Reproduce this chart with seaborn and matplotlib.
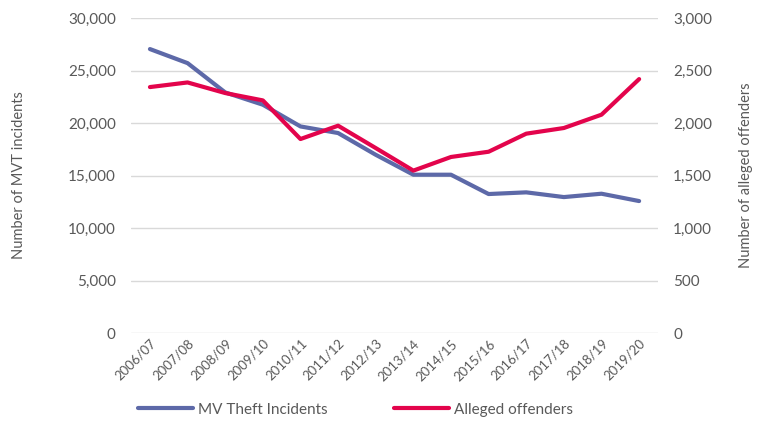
import matplotlib.pyplot as plt
import pandas as pd
import seaborn as sns
from matplotlib.ticker import FuncFormatter

years = ["2006/07", "2007/08", "2008/09", "2009/10", "2010/11", "2011/12",
         "2012/13", "2013/14", "2014/15", "2015/16", "2016/17", "2017/18",
         "2018/19", "2019/20"]
mvt_incidents = [27050, 25710, 22920, 21750, 19680, 19050, 16980, 15080,
                 15080, 13240, 13400, 12950, 13270, 12570]
alleged_offenders = [2343, 2387, 2286, 2216, 1848, 1975, 1762, 1547,
                     1677, 1727, 1899, 1953, 2080, 2419]

blue = "#5D69A8"
red = "#E3044C"
text_grey = "#595959"
grid_grey = "#D9D9D9"

df = pd.DataFrame({"year": years, "incidents": mvt_incidents,
                   "offenders": alleged_offenders})
df["pos"] = range(len(df))

sns.set_theme(style="white")
plt.rcParams["font.family"] = ["Lato", "DejaVu Sans"]

fig = plt.figure(figsize=(7.58, 4.21), dpi=100)
ax = fig.add_axes([0.173, 0.209, 0.695, 0.748])
ax2 = ax.twinx()

sns.lineplot(data=df, x="pos", y="incidents", ax=ax, color=blue,
             linewidth=3, label="MV Theft Incidents", legend=False)
sns.lineplot(data=df, x="pos", y="offenders", ax=ax2, color=red,
             linewidth=3, label="Alleged offenders", legend=False)

ax.set_xlim(-0.5, len(years) - 0.5)
ax.set_ylim(0, 30000)
ax2.set_ylim(0, 3000)
ax.set_yticks(range(0, 30001, 5000))
ax2.set_yticks(range(0, 3001, 500))
ax.yaxis.set_major_formatter(FuncFormatter(lambda v, p: f"{int(v):,}"))
ax2.yaxis.set_major_formatter(FuncFormatter(lambda v, p: f"{int(v):,}"))

ax.set_xticks(df["pos"])
ax.set_xticklabels(years, rotation=45, ha="right", rotation_mode="anchor",
                   fontsize=9.5, color=text_grey)

ax.grid(axis="y", color=grid_grey, linewidth=1)
ax.set_axisbelow(True)
for a in (ax, ax2):
    for side in a.spines:
        a.spines[side].set_visible(False)
    a.tick_params(axis="y", length=0, pad=11, labelsize=11,
                  labelcolor=text_grey)
ax.tick_params(axis="x", length=0, pad=3)

ax.set_xlabel("")
ax.set_ylabel("Number of MVT incidents", fontsize=10.5, color=text_grey,
              labelpad=30)
ax2.set_ylabel("Number of alleged offenders", fontsize=10.5, color=text_grey,
               labelpad=19)

handles = ax.get_lines()[:1] + ax2.get_lines()[:1]
fig.legend(handles, ["MV Theft Incidents", "Alleged offenders"],
           loc="center left", bbox_to_anchor=(0.164, 0.027), ncol=2,
           frameon=False, fontsize=11, labelcolor=text_grey,
           handlelength=3.6, handletextpad=0.3, columnspacing=4.4)

fig.savefig("out.png", dpi=100)
